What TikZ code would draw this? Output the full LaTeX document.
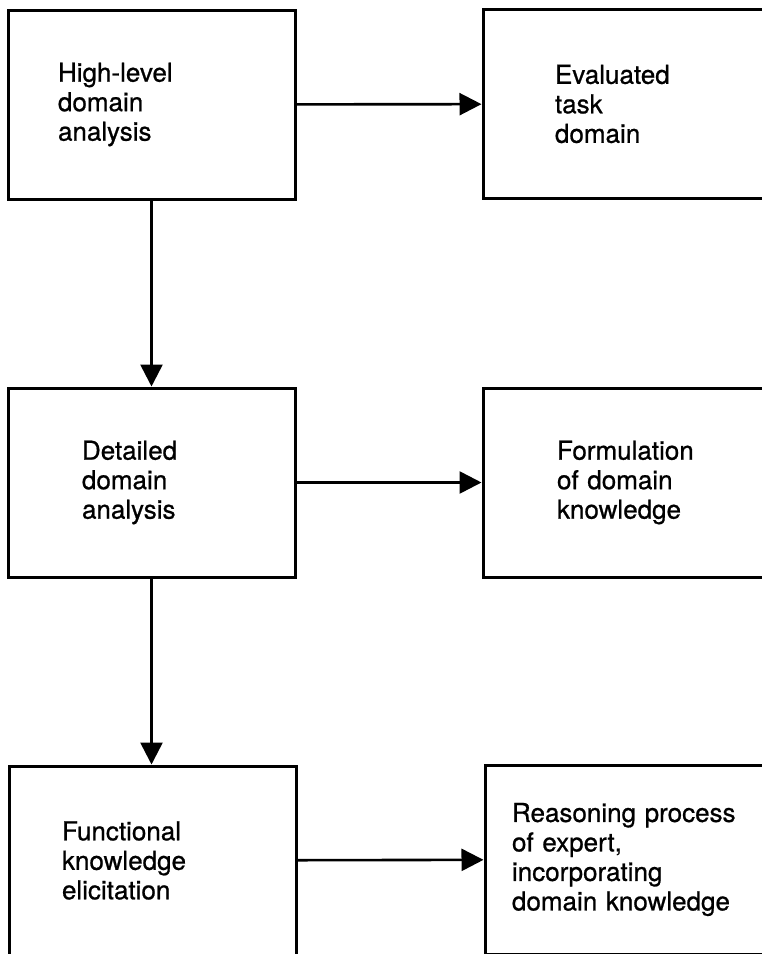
\documentclass[tikz,border=0pt]{standalone}
\usepackage{fontspec}
\setmainfont{TeX Gyre Heros}[FakeBold=0.8]
\usepackage{tikz}
\usetikzlibrary{arrows.meta}

\begin{document}
\begin{tikzpicture}
    [%%%%%%%%%%%%%%%%%%%%%%%%%%%%%%
        x=1pt, y=-1pt,
        box/.style={draw=black, line width=3pt, rectangle, inner sep=0pt,
            minimum height=189pt, align=left,
            font=\fontsize{26}{29.5}\selectfont},
        lbox/.style={box, minimum width=287pt},
        rbox/.style={box, minimum width=330pt},
        arr/.style={line width=2.6pt, -{Triangle[length=22pt,width=22pt]}},
    ]%%%%%%%%%%%%%%%%%%%%%%%%%%%%%%

\clip (0,0) rectangle (762,954);

% left column
\node[lbox, text width=187pt] (hla) at (151.5,104.5) {High-level\\domain\\analysis};
\node[lbox, text width=139pt] (dda) at (151.5,482.5) {Detailed\\domain\\analysis};
\node[lbox, text width=182pt] (fke) at (153,860.5) {Functional\\knowledge\\elicitation};

% right column
\node[rbox, text width=186pt] (etd) at (648,104) {Evaluated\\task\\domain};
\node[rbox, text width=182pt] (fdk) at (648,482.5) {Formulation\\of domain\\knowledge};
\node[rbox, text width=276pt] (rpe) at (650,859.5) {Reasoning process\\of expert,\\incorporating\\domain knowledge};

\foreach \a/\b in {hla/etd,dda/fdk,fke/rpe}{
	\draw[arr] (\a) -- (\b);
}
\draw[arr] (hla) -- (dda);
\draw[arr] (dda) -- (fke.north -| dda);

\end{tikzpicture}
\end{document}
